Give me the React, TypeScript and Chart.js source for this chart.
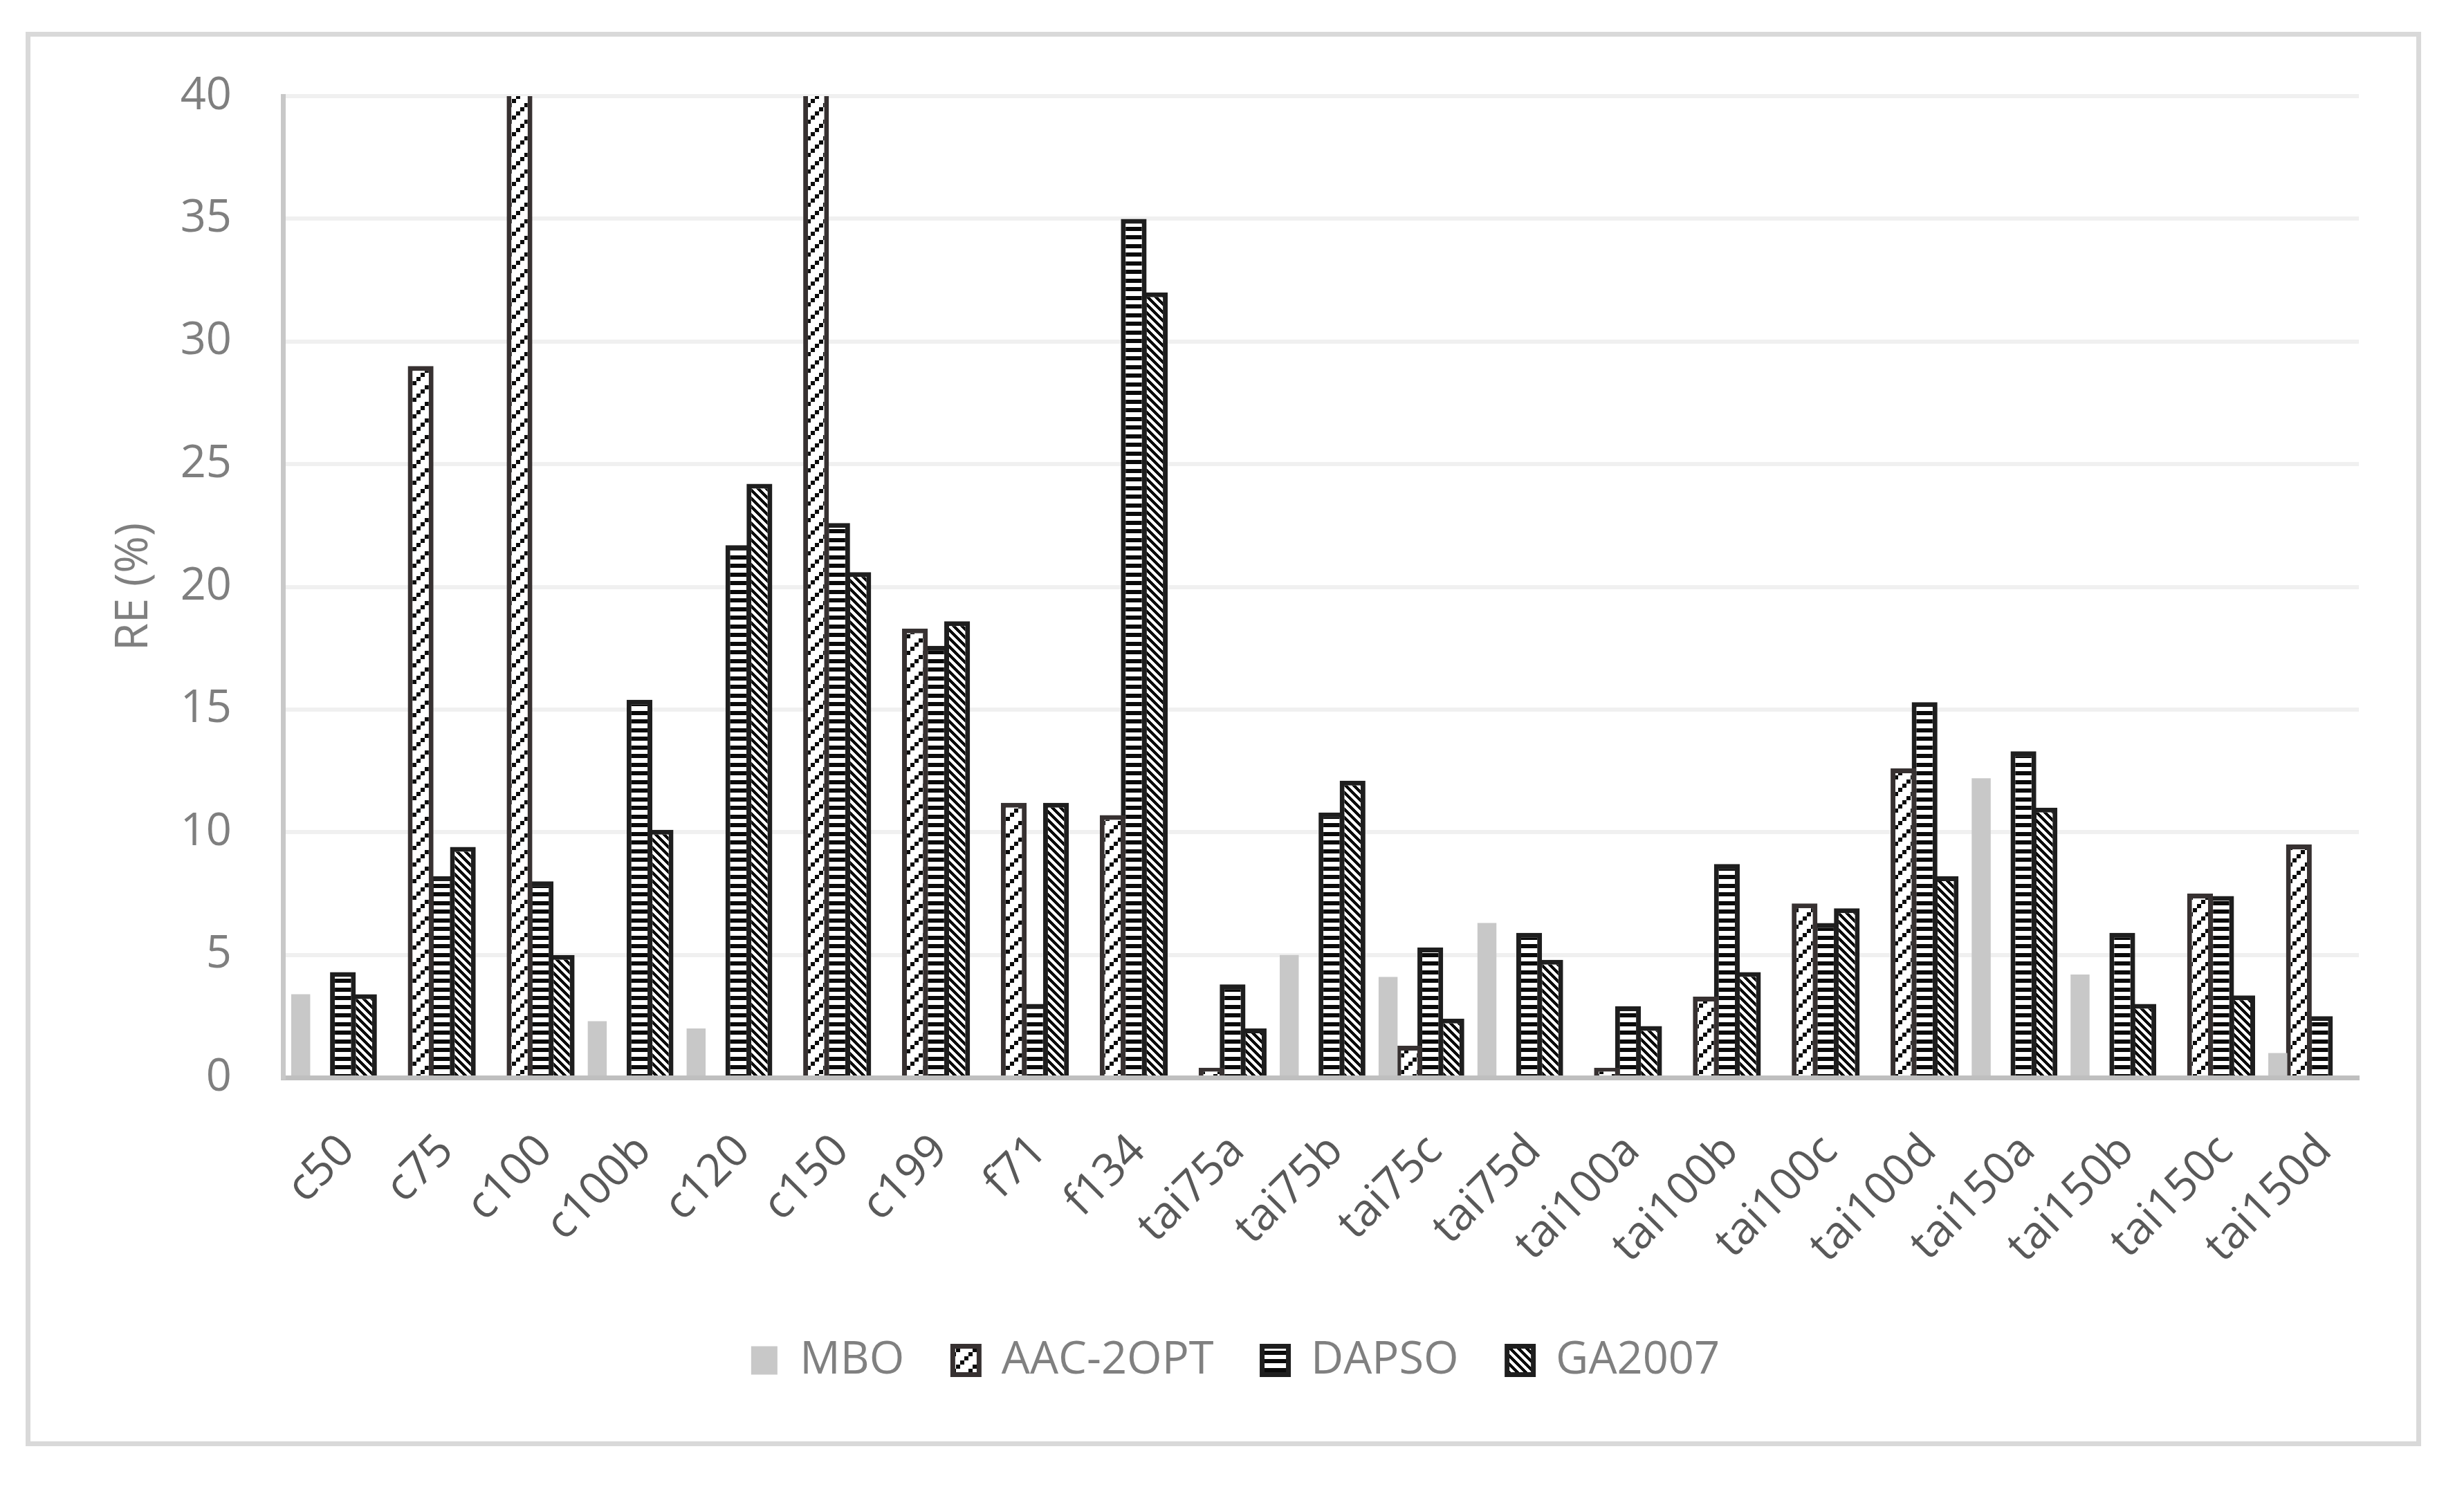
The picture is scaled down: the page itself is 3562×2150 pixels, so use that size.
import { useEffect, useRef } from 'react';
import Chart from 'chart.js/auto';

const categories = [
    'c50', 'c75', 'c100', 'c100b', 'c120', 'c150', 'c199', 'f71', 'f134',
    'tai75a', 'tai75b', 'tai75c', 'tai75d', 'tai100a', 'tai100b', 'tai100c', 'tai100d',
    'tai150a', 'tai150b', 'tai150c', 'tai150d'
];

const mboValues = [3.4, null, null, 2.3, 2.0, null, null, null, null, null, 5.0, 4.1, 6.3, null, null, null, null, 12.2, 4.2, null, 1.0];
const aacValues = [null, 29.0, 42, null, null, 42, 18.3, 11.2, 10.7, 0.4, null, 1.3, null, 0.4, 3.3, 7.1, 12.6, null, null, 7.5, 9.5];
const dapsoValues = [4.3, 8.2, 8.0, 15.4, 21.7, 22.6, 17.6, 3.0, 35.0, 3.8, 10.8, 5.3, 5.9, 2.9, 8.7, 6.3, 15.3, 13.3, 5.9, 7.4, 2.5];
const gaValues = [3.4, 9.4, 5.0, 10.1, 24.2, 20.6, 18.6, 11.2, 32.0, 2.0, 12.1, 2.4, 4.8, 2.1, 4.3, 6.9, 8.2, 11.0, 3.0, 3.35, null];

const seriesNames = ['MBO', 'AAC-2OPT', 'DAPSO', 'GA2007'];
const yTicks = { min: 0, max: 40, step: 5 };

const FONT = "'Open Sans', 'Noto Sans', sans-serif";

// small tiles that imitate Excel's hatch fills
function makePattern(kind: string, ctx: CanvasRenderingContext2D) {
    const tile = document.createElement('canvas');
    const ink = '#0a0a0a';
    if (kind === 'up') {
        tile.width = 24; tile.height = 24;
        const g = tile.getContext('2d')!;
        g.fillStyle = '#fff'; g.fillRect(0, 0, 24, 24);
        g.fillStyle = ink;
        g.fillRect(18, 0, 6, 6);
        g.fillRect(12, 6, 6, 6);
        g.fillRect(6, 12, 6, 6);
        g.fillRect(0, 18, 6, 6);
    } else if (kind === 'horiz') {
        tile.width = 4; tile.height = 25;
        const g = tile.getContext('2d')!;
        g.fillStyle = '#fff'; g.fillRect(0, 0, 4, 25);
        g.fillStyle = ink;
        g.fillRect(0, 0, 4, 6);
        g.fillRect(0, 12, 4, 6);
    } else {
        tile.width = 12; tile.height = 12;
        const g = tile.getContext('2d')!;
        g.fillStyle = '#fff'; g.fillRect(0, 0, 12, 12);
        g.fillStyle = ink;
        for (let y = 0; y < 12; y++) {
            for (let k = 0; k < 6; k++) {
                g.fillRect((y + k) % 12, y, 1, 1);
            }
        }
    }
    return ctx.createPattern(tile, 'repeat');
}

export default function App() {
    const canvasRef = useRef<HTMLCanvasElement>(null);
    const chartRef = useRef<Chart | null>(null);

    useEffect(() => {
        if (!canvasRef.current) return;
        const ctx = canvasRef.current.getContext('2d');
        if (!ctx) return;

        const upDiag = makePattern('up', ctx);
        const horiz = makePattern('horiz', ctx);
        const downDiag = makePattern('down', ctx);

        const tickFont = { family: FONT, size: 65 };

        chartRef.current = new Chart(ctx, {
            type: 'bar',
            data: {
                labels: categories,
                datasets: [
                    {
                        label: seriesNames[0],
                        data: mboValues,
                        backgroundColor: '#c8c8c8',
                        borderWidth: 0,
                        barPercentage: 0.9,
                        categoryPercentage: 0.854,
                        clip: 0
                    },
                    {
                        label: seriesNames[1],
                        data: aacValues,
                        backgroundColor: upDiag,
                        borderColor: '#373131',
                        borderWidth: 7,
                        barPercentage: 1.22,
                        categoryPercentage: 0.854,
                        clip: 0
                    },
                    {
                        label: seriesNames[2],
                        data: dapsoValues,
                        backgroundColor: horiz,
                        borderColor: '#1e1e1e',
                        borderWidth: 7,
                        barPercentage: 1.22,
                        categoryPercentage: 0.854,
                        clip: 0
                    },
                    {
                        label: seriesNames[3],
                        data: gaValues,
                        backgroundColor: downDiag,
                        borderColor: '#1e1e1e',
                        borderWidth: 7,
                        barPercentage: 1.22,
                        categoryPercentage: 0.854,
                        clip: 0
                    }
                ]
            },
            options: {
                responsive: false,
                animation: false,
                devicePixelRatio: 1,
                layout: { padding: { left: 118, right: 83, top: 86, bottom: 74.5 } },
                plugins: {
                    legend: {
                        position: 'bottom',
                        labels: {
                            boxWidth: 38,
                            boxHeight: 41,
                            padding: 70,
                            color: '#808080',
                            font: tickFont
                        }
                    },
                    tooltip: { enabled: false }
                },
                scales: {
                    x: {
                        grid: { display: false, drawTicks: false },
                        border: { display: true, color: '#bfbfbf', width: 7, z: 1 },
                        ticks: {
                            autoSkip: false,
                            maxRotation: 45,
                            minRotation: 45,
                            padding: 68,
                            labelOffset: 22,
                            color: '#595959',
                            font: tickFont
                        },
                        afterFit: (s: any) => { s.height = 306.5; }
                    },
                    y: {
                        min: yTicks.min,
                        max: yTicks.max,
                        ticks: { stepSize: yTicks.step, padding: 74, color: '#7f7f7f', font: tickFont },
                        grid: { color: '#f0f0f0', lineWidth: 6, drawTicks: false },
                        border: { color: '#c8c8c8', width: 7, z: 1 },
                        title: {
                            display: true,
                            text: 'RE (%)',
                            color: '#7f7f7f',
                            font: { family: FONT, size: 65, lineHeight: 1 },
                            padding: 0
                        },
                        // tick padding would otherwise push the plot top down
                        afterFit: (s: any) => {
                            s.width = 247;
                            s.paddingTop = 39;
                            s.paddingBottom = 39;
                        }
                    }
                }
            }
        } as any);

        return () => {
            if (chartRef.current) {
                chartRef.current.destroy();
                chartRef.current = null;
            }
        };
    }, []);

    return (
        <div style={{ position: 'fixed', left: 0, top: 0, width: 3562, height: 2150, background: '#fff' }}>
            <div style={{
                position: 'absolute', left: 37, top: 46, width: 3463, height: 2045,
                border: '7px solid #d9d9d9', boxSizing: 'border-box'
            }}>
                <canvas ref={canvasRef} width={3449} height={2031} style={{ display: 'block' }} />
            </div>
        </div>
    );
}
